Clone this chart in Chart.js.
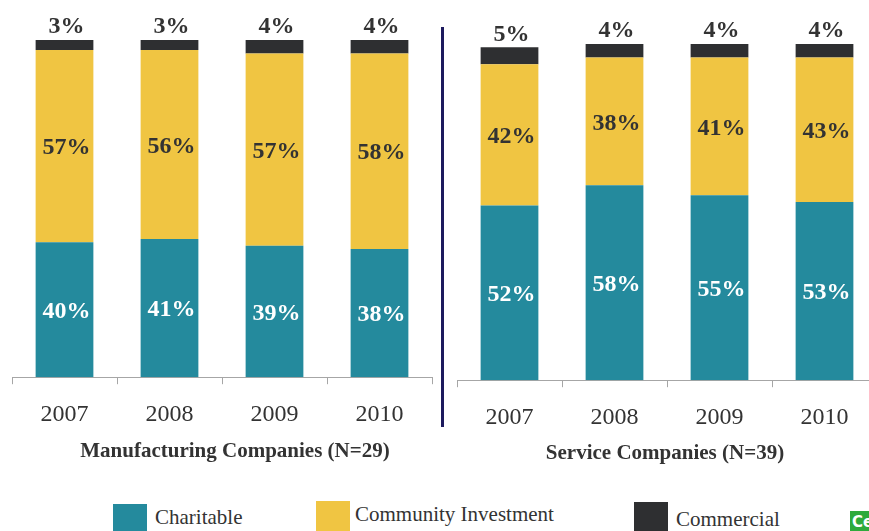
<!DOCTYPE html>
<html>
<head>
<meta charset="utf-8">
<script src="https://cdn.jsdelivr.net/npm/chart.js@4.4.1/dist/chart.umd.min.js"></script>
<style>
  html, body { margin: 0; padding: 0; background: #fff; overflow: hidden; }
  body { width: 869px; height: 531px; position: relative; font-family: "Liberation Serif", "Times New Roman", serif; }
  .panel { position: absolute; top: 0; }
  #mfgWrap { left: 0; width: 440px; height: 445px; }
  #svcWrap { left: 440px; width: 445px; height: 448px; }
  .divider { position: absolute; left: 441px; top: 27px; width: 3px; height: 400px; background: #1d1a5e; }
  .group-title { position: absolute; font-size: 21px; font-weight: bold; color: #333; white-space: nowrap;
                 transform: translateX(-50%); line-height: 24px; }
  .legend-item { position: absolute; font-size: 21px; color: #333; white-space: nowrap; }
  .swatch { position: absolute; width: 34px; height: 30px; }
  .logo { position: absolute; left: 850px; top: 511px; width: 30px; height: 22px; background: #2eaa3c; color: #fff;
          font: bold 15px "DejaVu Sans", sans-serif; line-height: 22px; padding-left: 2px; }
</style>
</head>
<body>
<div class="panel" id="mfgWrap"><canvas id="mfgChart"></canvas></div>
<div class="panel" id="svcWrap"><canvas id="svcChart"></canvas></div>
<div class="divider"></div>

<div class="group-title" style="left:235px; top:438px">Manufacturing Companies (N=29)</div>
<div class="group-title" style="left:665px; top:440px">Service Companies (N=39)</div>

<div class="swatch" style="left:113px; top:504px; background:#248a9d"></div>
<div class="legend-item" style="left:155px; top:505px">Charitable</div>
<div class="swatch" style="left:316px; top:501px; background:#f0c542"></div>
<div class="legend-item" style="left:355px; top:502px">Community Investment</div>
<div class="swatch" style="left:634px; top:502px; background:#2e2f31"></div>
<div class="legend-item" style="left:676px; top:507px">Commercial</div>
<div class="logo">Ce</div>

<script>
const years = ["2007", "2008", "2009", "2010"]

// manufacturing companies, share of giving (%)
const mfgCharitable = [40, 41, 39, 38]
const mfgCommunity = [57, 56, 57, 58]
const mfgCommercial = [3, 3, 4, 4]

// service companies, share of giving (%)
const svcCharitable = [52, 58, 55, 53]
const svcCommunity = [42, 38, 41, 43]
const svcCommercial = [5, 4, 4, 4]

const TEAL = "#248a9d"
const GOLD = "#f0c542"
const DARK = "#2e2f31"

// percent labels: inside the two lower segments, above the top one
const pctLabels = {
  id: "pctLabels",
  afterDatasetsDraw(chart) {
    const ctx = chart.ctx
    ctx.save()
    ctx.font = "bold 24px 'Liberation Serif', serif"
    ctx.textAlign = "center"
    ctx.textBaseline = "middle"
    chart.data.datasets.forEach((ds, i) => {
      const meta = chart.getDatasetMeta(i)
      meta.data.forEach((bar, j) => {
        const txt = ds.data[j] + "%"
        if (i === 2) {
          ctx.fillStyle = "#333"
          ctx.fillText(txt, bar.x + 2, bar.y - 13)
        } else {
          ctx.fillStyle = i === 0 ? "#fff" : "#333"
          ctx.fillText(txt, bar.x + 2, (bar.y + bar.base) / 2 + 2)
        }
      })
    })
    ctx.restore()
  }
}

function makeChart(id, charitable, community, commercial, pad) {
  const ctx = document.getElementById(id).getContext("2d")
  return new Chart(ctx, {
    type: "bar",
    data: {
      labels: years,
      datasets: [
        { label: "Charitable", data: charitable, backgroundColor: TEAL },
        { label: "Community Investment", data: community, backgroundColor: GOLD },
        { label: "Commercial", data: commercial, backgroundColor: DARK }
      ]
    },
    options: {
      responsive: true,
      maintainAspectRatio: false,
      animation: false,
      events: [],
      layout: { padding: pad },
      datasets: { bar: { categoryPercentage: 1, barPercentage: 0.55 } },
      plugins: {
        legend: { display: false },
        tooltip: { enabled: false }
      },
      scales: {
        x: {
          stacked: true,
          border: { display: true, color: "#a6a6a6", width: 1 },
          grid: { display: true, drawOnChartArea: false, color: "#a6a6a6", tickLength: 7 },
          ticks: { color: "#333", padding: 16, font: { family: "'Liberation Serif', serif", size: 24 } }
        },
        y: { stacked: true, display: false, min: 0, max: 100 }
      }
    },
    plugins: [pctLabels]
  })
}

makeChart("mfgChart", mfgCharitable, mfgCommunity, mfgCommercial,
  { left: 12, right: 8, top: 40, bottom: 0 })
makeChart("svcChart", svcCharitable, svcCommunity, svcCommercial,
  { left: 17, right: 8, top: 44, bottom: 0 })
</script>
</body>
</html>
